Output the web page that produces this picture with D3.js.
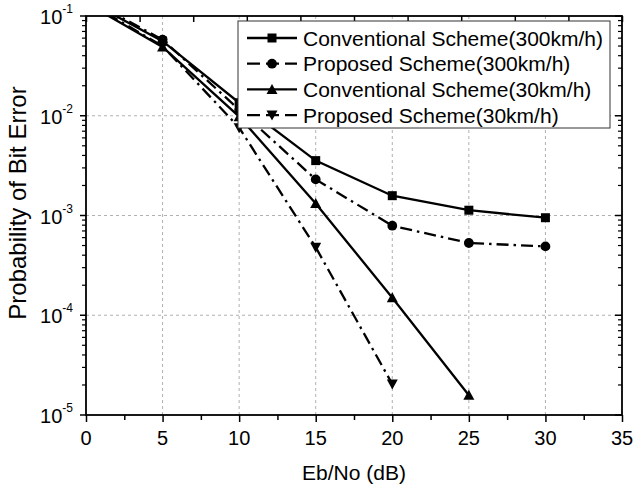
<!DOCTYPE html>
<html>
<head>
<meta charset="utf-8">
<script src="https://cdn.jsdelivr.net/npm/d3@7"></script>
<style>
  body { margin: 0; background: #fff; }
  text { font-family: "Liberation Sans", Arial, sans-serif; fill: #000; }
</style>
</head>
<body>
<script>
// Eb/No points (dB)
var snr = [0, 5, 10, 15, 20, 25, 30];

var conv300 = [0.145, 0.056, 0.0135, 0.00355, 0.00158, 0.00113, 0.00095];
var prop300 = [0.15, 0.058, 0.0115, 0.0023, 0.00079, 0.00053, 0.00049];
var conv30 = [0.135, 0.049, 0.0098, 0.00132, 0.000150, 0.0000158];
var prop30 = [0.14, 0.05, 0.0076, 0.00048, 0.0000204];

var seriesNames = ['Conventional Scheme(300km/h)', 'Proposed Scheme(300km/h)',
                   'Conventional Scheme(30km/h)', 'Proposed Scheme(30km/h)'];

var xTicks = [0, 5, 10, 15, 20, 25, 30, 35];
var yTicks = [1e-5, 1e-4, 1e-3, 1e-2, 1e-1];

var width = 633, height = 488;
var pl = 86, pr = 622, pt = 16, pb = 415;

var svg = d3.select('body').append('svg').attr('width', width).attr('height', height);

var x = d3.scaleLinear().domain([0, 35]).range([pl, pr]);
var y = d3.scaleLog().domain([1e-5, 1e-1]).range([pb, pt]);

svg.append('defs').append('clipPath').attr('id', 'plot')
  .append('rect').attr('x', pl).attr('y', pt)
  .attr('width', pr - pl).attr('height', pb - pt);

// grid
var grid = svg.append('g').attr('stroke', '#b0b0b0').attr('stroke-width', 1)
  .attr('stroke-dasharray', '3,3');
grid.selectAll('.gx').data(xTicks.slice(1, -1)).enter().append('line')
  .attr('x1', function(d) { return x(d); }).attr('x2', function(d) { return x(d); })
  .attr('y1', pt).attr('y2', pb);
grid.selectAll('.gy').data(yTicks.slice(1, -1)).enter().append('line')
  .attr('y1', function(d) { return y(d); }).attr('y2', function(d) { return y(d); })
  .attr('x1', pl).attr('x2', pr);

// minor log ticks
var minor = [];
for (var e = -5; e < -1; e++) {
  for (var m = 2; m < 10; m++) minor.push(m * Math.pow(10, e));
}

// bottom axis, outward ticks, minors every 2.5
svg.append('g').attr('transform', 'translate(0,' + pb + ')')
  .call(d3.axisBottom(x).tickValues(d3.range(0, 35.1, 2.5)).tickSize(6).tickFormat(''))
  .call(function(g) { g.select('.domain').remove(); })
  .selectAll('line').attr('stroke-width', 1.5)
  .attr('y2', function(d) { return d % 5 === 0 ? 7 : 5; });

svg.append('g').selectAll('text').data(xTicks).enter().append('text')
  .attr('x', function(d) { return x(d); }).attr('y', 445)
  .attr('text-anchor', 'middle').attr('font-size', 20).text(function(d) { return d; });

// top axis, inward ticks
svg.append('g').attr('transform', 'translate(0,' + pt + ')')
  .call(d3.axisTop(x).tickValues(d3.range(0, 35.1, 3.5)).tickSize(-6).tickFormat(''))
  .call(function(g) { g.select('.domain').remove(); })
  .selectAll('line').attr('stroke-width', 1.5);

// left axis, outward
var la = svg.append('g').attr('transform', 'translate(' + pl + ',0)');
la.selectAll('.maj').data(yTicks).enter().append('line')
  .attr('x1', -6).attr('x2', 0)
  .attr('y1', function(d) { return y(d); }).attr('y2', function(d) { return y(d); })
  .attr('stroke', '#000').attr('stroke-width', 1.5);
la.selectAll('.min').data(minor).enter().append('line')
  .attr('x1', -4).attr('x2', 0)
  .attr('y1', function(d) { return y(d); }).attr('y2', function(d) { return y(d); })
  .attr('stroke', '#000').attr('stroke-width', 1.2);

var lbl = svg.append('g').selectAll('text').data(yTicks).enter().append('text')
  .attr('x', 73).attr('y', function(d) { return y(d) + 8; })
  .attr('text-anchor', 'end').attr('font-size', 20);
lbl.append('tspan').text('10');
lbl.append('tspan').attr('font-size', 12).attr('dy', -11)
  .text(function(d) { return Math.round(Math.log10(d)); });

// right axis, inward
var ra = svg.append('g').attr('transform', 'translate(' + pr + ',0)');
ra.selectAll('.maj').data(yTicks).enter().append('line')
  .attr('x1', -7).attr('x2', 0)
  .attr('y1', function(d) { return y(d); }).attr('y2', function(d) { return y(d); })
  .attr('stroke', '#000').attr('stroke-width', 1.5);
ra.selectAll('.min').data(minor).enter().append('line')
  .attr('x1', -4).attr('x2', 0)
  .attr('y1', function(d) { return y(d); }).attr('y2', function(d) { return y(d); })
  .attr('stroke', '#000').attr('stroke-width', 1.2);

// frame
svg.append('rect').attr('x', pl).attr('y', pt)
  .attr('width', pr - pl).attr('height', pb - pt)
  .attr('fill', 'none').attr('stroke', '#000').attr('stroke-width', 1.8);

// axis titles
svg.append('text').attr('x', (pl + pr) / 2).attr('y', 480)
  .attr('text-anchor', 'middle').attr('font-size', 21).text('Eb/No (dB)');
svg.append('text').attr('transform', 'translate(26,203) rotate(-90)')
  .attr('text-anchor', 'middle').attr('font-size', 24).text('Probability of Bit Error');

// series
var solid = null, dashdot = '12,5,2.5,5';
var series = [
  { name: seriesNames[0], values: conv300, dash: solid, mark: 'square' },
  { name: seriesNames[1], values: prop300, dash: dashdot, mark: 'circle' },
  { name: seriesNames[2], values: conv30, dash: solid, mark: 'up' },
  { name: seriesNames[3], values: prop30, dash: dashdot, mark: 'down' }
];

function markerPath(kind) {
  if (kind === 'square') return 'M-4.5,-4.5H4.5V4.5H-4.5Z';
  if (kind === 'circle') return d3.symbol(d3.symbolCircle, 75)();
  if (kind === 'up') return 'M0,-5.5L5.5,4.5H-5.5Z';
  return 'M0,5.5L5.5,-4.5H-5.5Z';
}

var line = d3.line()
  .x(function(d, i) { return x(snr[i]); })
  .y(function(d) { return y(d); });

var plot = svg.append('g').attr('clip-path', 'url(#plot)');
series.forEach(function(s) {
  plot.append('path').datum(s.values).attr('d', line)
    .attr('fill', 'none').attr('stroke', '#000').attr('stroke-width', 2.3)
    .attr('stroke-dasharray', s.dash);
  plot.selectAll(null).data(s.values).enter().append('path')
    .attr('transform', function(d, i) { return 'translate(' + x(snr[i]) + ',' + y(d) + ')'; })
    .attr('d', markerPath(s.mark)).attr('fill', '#000');
});

// legend
var lg = svg.append('g');
lg.append('rect').attr('x', 238).attr('y', 21).attr('width', 372).attr('height', 107)
  .attr('fill', '#fff').attr('stroke', '#333').attr('stroke-width', 1);
series.forEach(function(s, i) {
  var ly = 38 + i * 25.7;
  lg.append('line').attr('x1', 247).attr('x2', 297).attr('y1', ly).attr('y2', ly)
    .attr('stroke', '#000').attr('stroke-width', 2.3)
    .attr('stroke-dasharray', s.dash ? '13,6' : null);
  lg.append('path').attr('transform', 'translate(272,' + ly + ')')
    .attr('d', markerPath(s.mark)).attr('fill', '#000');
  lg.append('text').attr('x', 303).attr('y', ly + 7.5).attr('font-size', 21).text(s.name);
});
</script>
</body>
</html>
